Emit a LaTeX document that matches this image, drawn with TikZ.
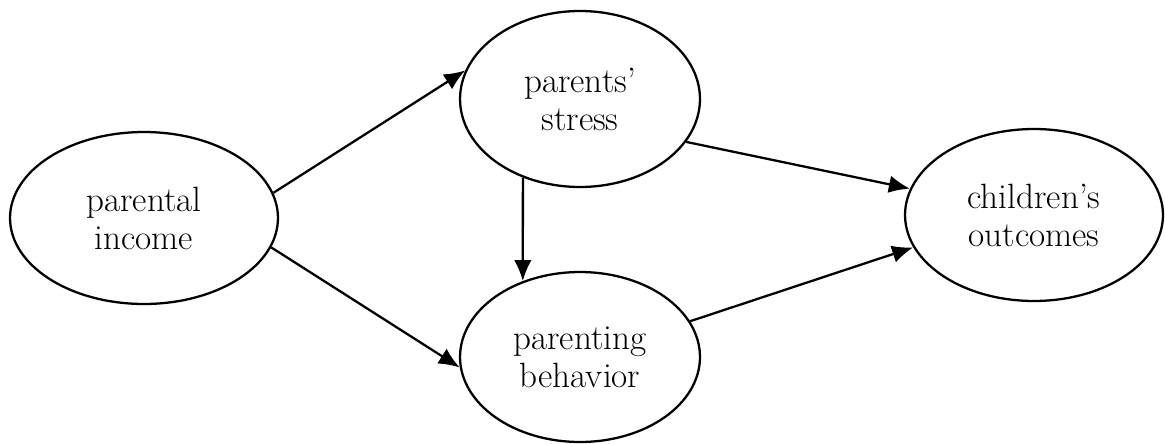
\documentclass[tikz,border=0pt]{standalone}
\usetikzlibrary{shapes.geometric,arrows.meta}

\begin{document}
\begin{tikzpicture}[x=0.02cm,y=-0.02cm]
    \tikzstyle{every node}+=[inner sep=0pt]
    \tikzstyle{var}=[draw, ellipse, line width=1.3pt, align=center,
        font=\fontsize{20pt}{21.6pt}\selectfont]
    \tikzstyle{link}=[line width=1.3pt, -{Latex[length=12pt,width=10pt]}]
    \useasboundingbox (0,0) rectangle (1165,443);
    \node [var, minimum width=5.36cm, minimum height=3.44cm] (income) at (144,218) {parental\\income};
    \node [var, minimum width=4.8cm, minimum height=3.52cm] (stress) at (580,99) {parents'\\stress};
    \node [var, minimum width=4.8cm, minimum height=3.4cm] (behavior) at (580,357) {parenting\\behavior};
    \node [var, minimum width=5.16cm, minimum height=3.44cm] (outcomes) at (1034,215) {children's\\outcomes};
    \draw [link] (income.11) -- (stress.166);
    \draw [link] (income.-13) -- (behavior.185);
    \draw [link] (stress.234) -- (behavior.127);
    \draw [link] (stress.-22) -- (outcomes.168);
    \draw [link] (behavior.18) -- (outcomes.195);
\end{tikzpicture}
\end{document}
